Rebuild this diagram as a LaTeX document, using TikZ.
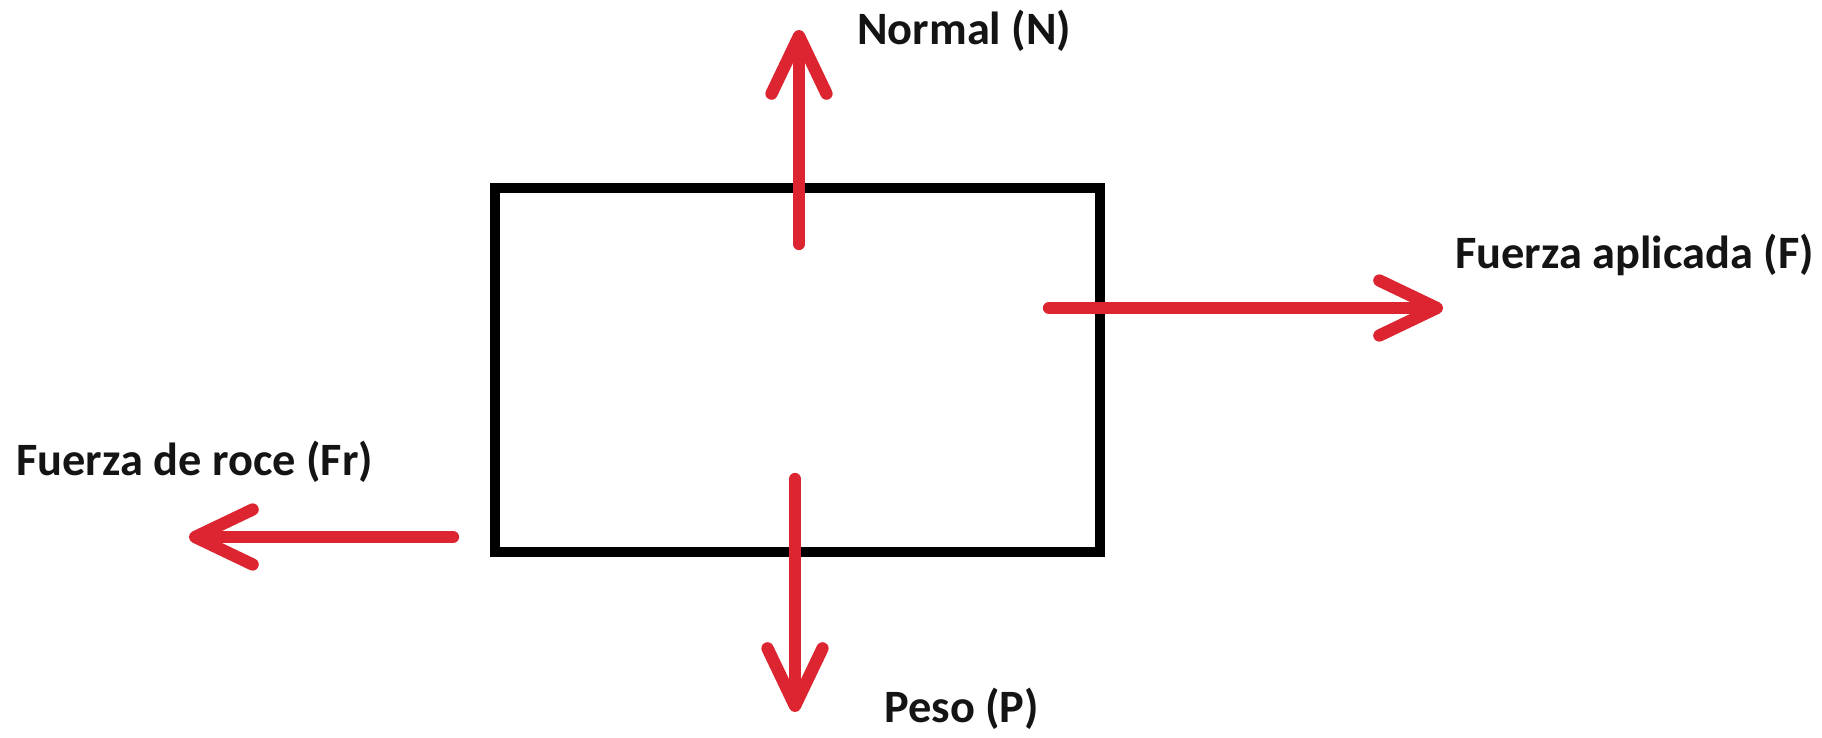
\documentclass[tikz,border=0pt]{standalone}
\usepackage{fontspec}
\setmainfont{Carlito}
\usepackage{tikz}
\usetikzlibrary{arrows.meta,positioning}
\definecolor{FBDRed}{HTML}{DC2530}
\definecolor{FBDInk}{HTML}{141414}
\tikzset{
  force/.style={-{Straight Barb[length=1.15cm,width=1.1cm,round]},FBDRed,line width=7pt,line cap=round},
  block/.style={draw=black,line width=5.5pt,minimum width=12.1cm,minimum height=7.28cm,inner sep=0pt},
  flabel/.style={text=FBDInk,font=\fontsize{26.4}{31}\selectfont\bfseries,inner sep=0pt,anchor=base west},
}
\begin{document}
\begin{tikzpicture}[x=0.02cm,y=-0.02cm]
    \useasboundingbox[fill=white] (0,0) rectangle (1822,737);

    \node[block] (block) at (797.5,370) {};

    % free ends of the forces
    \coordinate (nTail) at (799,244);
    \coordinate (nTip) at (799,30);
    \coordinate (fTail) at (1049,308);
    \coordinate (fTip) at (1443,308);
    \coordinate (frTail) at (453,537);
    \coordinate (frTip) at (189,537);
    \coordinate (pTail) at (795,479);
    \coordinate (pTip) at (795,712);

    \draw[force] (nTail) -- (nTip);
    \draw[force] (fTail) -- (fTip);
    \draw[force] (frTail) -- (frTip);
    \draw[force] (pTail) -- (pTip);

    \node[flabel] (lblN) at (857,44) {Normal (N)};
    \node[flabel] (lblF) at (1455,268) {Fuerza aplicada (F)};
    \node[flabel] (lblFr) at (16,475) {Fuerza de roce (Fr)};
    \node[flabel] (lblP) at (884,722) {Peso (P)};
  \end{tikzpicture}
\end{document}
